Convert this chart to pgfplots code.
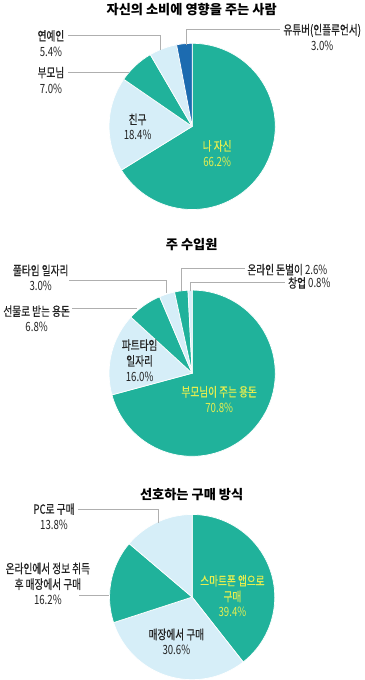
\documentclass[border=0pt]{standalone}
\usepackage{fontspec}
\setmainfont{Noto Sans CJK KR}
\newfontfamily\labfont[FakeStretch=0.76]{Noto Sans CJK KR}
\newfontfamily\hb[FakeStretch=0.76, FakeBold=0.6]{Noto Sans CJK KR}
\usepackage{pgfplots}
\pgfplotsset{compat=1.18}
\definecolor{teal1}{RGB}{32,178,155}
\definecolor{lblue}{RGB}{214,238,248}
\definecolor{dblue}{RGB}{28,107,176}
\definecolor{ylw}{RGB}{230,238,80}
\definecolor{lead}{RGB}{175,175,175}
\definecolor{txt}{RGB}{35,35,35}
\newcommand{\lab}{\labfont\fontsize{12.5}{15.5}\selectfont}
\newcommand{\ttl}{\fontsize{13}{15}\selectfont\bfseries}
% wedge: cx, cy, r, start cumulative %, end cumulative %, colour
\newcommand{\wedgeplot}[6]{%
  \pgfmathsetmacro{\wa}{90-3.6*#5}%
  \pgfmathsetmacro{\wb}{90-3.6*#4}%
  \pgfmathtruncatemacro{\ws}{max(3,ceil((#5-#4)*3.6/3))}%
  \edef\tmp{\noexpand\addplot[fill=#6, draw=white, line width=0.7pt, line join=round,
     domain=\wa:\wb, samples=\ws, variable=\noexpand\t]
     ({#1+#3*cos(\noexpand\t)}, {#2-#3*sin(\noexpand\t)}) -- (axis cs:#1,#2) -- cycle;}%
  \tmp
}
\begin{document}
\begin{tikzpicture}
\begin{axis}[width=372bp, height=680bp, scale only axis, xmin=0, xmax=372, ymin=0, ymax=680,
  y dir=reverse, hide axis, clip=false, at={(0,0)}]
% ---------- Pie 1: values 66.2, 18.4, 7.0, 5.4, 3.0
\wedgeplot{193.5}{129.5}{81.5}{0}{66.2}{teal1}
\wedgeplot{193.5}{129.5}{81.5}{66.2}{84.6}{lblue}
\wedgeplot{193.5}{129.5}{81.5}{84.6}{91.6}{teal1}
\wedgeplot{193.5}{129.5}{81.5}{91.6}{97.0}{lblue}
\wedgeplot{193.5}{129.5}{81.5}{97.0}{100}{dblue}
% ---------- Pie 2: values 70.8, 16.0, 6.8, 3.0, 2.6, 0.8
\wedgeplot{193.5}{371.5}{81.5}{0}{70.8}{teal1}
\wedgeplot{193.5}{371.5}{81.5}{70.8}{86.8}{lblue}
\wedgeplot{193.5}{371.5}{81.5}{86.8}{93.6}{teal1}
\wedgeplot{193.5}{371.5}{81.5}{93.6}{96.6}{lblue}
\wedgeplot{193.5}{371.5}{81.5}{96.6}{99.2}{teal1}
\wedgeplot{193.5}{371.5}{81.5}{99.2}{100}{lblue}
% ---------- Pie 3: values 39.4, 30.6, 16.2, 13.8
\wedgeplot{193.5}{591}{81}{0}{39.4}{teal1}
\wedgeplot{193.5}{591}{81}{39.4}{70.0}{lblue}
\wedgeplot{193.5}{591}{81}{70.0}{86.2}{teal1}
\wedgeplot{193.5}{591}{81}{86.2}{100}{lblue}

% ---------- titles
\node[font=\ttl] at (axis cs:193,15) {자신의 소비에 영향을 주는 사람};
\node[font=\ttl] at (axis cs:193,245) {주 수입원};
\node[font=\ttl] at (axis cs:193,490) {선호하는 구매 방식};

% ---------- leader lines
\draw[lead, line width=0.6pt] (axis cs:72,40) -- (axis cs:162,40) -- (axis cs:162,55);
\draw[lead, line width=0.6pt] (axis cs:72,76) -- (axis cs:132,76);
\draw[lead, line width=0.6pt] (axis cs:188,50) -- (axis cs:188,34) -- (axis cs:280,34);

\draw[lead, line width=0.6pt] (axis cs:73,280) -- (axis cs:168,280) -- (axis cs:168,293);
\draw[lead, line width=0.6pt] (axis cs:76,308) -- (axis cs:139,308);
\draw[lead, line width=0.6pt] (axis cs:183,291) -- (axis cs:183,269) -- (axis cs:245,269);
\draw[lead, line width=0.6pt] (axis cs:192,291) -- (axis cs:192,282) -- (axis cs:285,282);

\draw[lead, line width=0.6pt] (axis cs:82,505) -- (axis cs:160,505) -- (axis cs:160,518);
\draw[lead, line width=0.6pt] (axis cs:83,589) -- (axis cs:112,589);

% ---------- labels pie 1
\node[font=\lab, text=txt, align=center] at (axis cs:55,48) {{\hb 연예인}\\5.4\%};
\node[font=\lab, text=txt, align=center] at (axis cs:55,84) {{\hb 부모님}\\7.0\%};
\node[font=\lab, text=txt, align=center] at (axis cs:321,42) {{\hb 유튜버(인플루언서)}\\3.0\%};
\node[font=\lab, text=txt, align=center] at (axis cs:140,130) {{\hb 친구}\\18.4\%};
\node[font=\lab, text=ylw, align=center] at (axis cs:218,156) {{\hb 나 자신}\\66.2\%};

% ---------- labels pie 2
\node[font=\lab, text=txt, align=center] at (axis cs:45,278) {{\hb 풀타임 일자리}\\3.0\%};
\node[font=\lab, text=txt, align=center] at (axis cs:41,318) {{\hb 선물로 받는 용돈}\\6.8\%};
\node[font=\lab, text=txt, anchor=west, inner xsep=1.5pt] at (axis cs:246,270) {{\hb 온라인 돈벌이} 2.6\%};
\node[font=\lab, text=txt, anchor=west, inner xsep=1.5pt] at (axis cs:286,283) {{\hb 창업} 0.8\%};
\node[font=\lab, text=txt, align=center] at (axis cs:142,359) {{\hb 파트타임}\\{\hb 일자리}\\16.0\%};
\node[font=\lab, text=ylw, align=center] at (axis cs:220,397) {{\hb 부모님이 주는 용돈}\\70.8\%};

% ---------- labels pie 3
\node[font=\lab, text=txt, align=center] at (axis cs:58,512) {{\hb PC로 구매}\\13.8\%};
\node[font=\lab, text=txt, align=center] at (axis cs:52,578) {{\hb 온라인에서 정보 취득}\\{\hb 후 매장에서 구매}\\16.2\%};
\node[font=\lab, text=ylw, align=center] at (axis cs:233,590) {{\hb 스마트폰 앱으로}\\{\hb 구매}\\39.4\%};
\node[font=\lab, text=txt, align=center] at (axis cs:178,635) {{\hb 매장에서 구매}\\30.6\%};
\end{axis}
\end{tikzpicture}
\end{document}
